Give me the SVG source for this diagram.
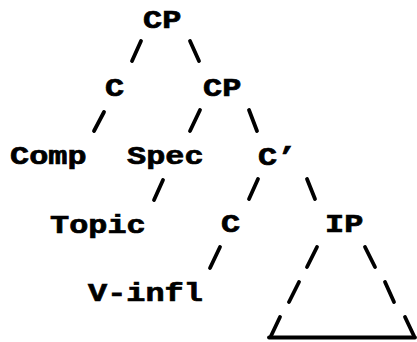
<svg xmlns="http://www.w3.org/2000/svg" width="417" height="342" viewBox="0 0 417 342">
<style>
text{font-family:"Liberation Mono","Courier New",monospace;font-weight:bold;font-size:25.5px;fill:#000;stroke:#000;stroke-width:0.7}
.c line{stroke:#000;stroke-width:3.8;stroke-linecap:round}
.base{stroke:#000;stroke-width:2.6}
</style>
<rect width="417" height="342" fill="#fff"/>
<g id="cp1" transform="translate(143,28) scale(1.25,1)"><text>CP</text></g>
<g id="c1" transform="translate(105,96) scale(1.25,1)"><text>C</text></g>
<g id="cp2" transform="translate(203,96) scale(1.25,1)"><text>CP</text></g>
<g id="comp" transform="translate(10,164) scale(1.25,1)"><text>Comp</text></g>
<g id="spec" transform="translate(127,164) scale(1.25,1)"><text>Spec</text></g>
<g id="cbar" transform="translate(258,165) scale(1.25,1)"><text>C’</text></g>
<g id="topic" transform="translate(50,233) scale(1.25,1)"><text>Topic</text></g>
<g id="c2" transform="translate(221,232) scale(1.25,1)"><text>C</text></g>
<g id="ip" transform="translate(325,232) scale(1.25,1)"><text>IP</text></g>
<g id="vinfl" transform="translate(88,301) scale(1.25,1)"><text>V-infl</text></g>
<g id="connectors" class="c">
<line x1="132" y1="61" x2="141" y2="41"/>
<line x1="190" y1="41" x2="199" y2="61"/>
<line x1="94" y1="131" x2="104" y2="112"/>
<line x1="190" y1="131" x2="200" y2="110"/>
<line x1="249" y1="110" x2="257" y2="131"/>
<line x1="154" y1="200" x2="163" y2="180"/>
<line x1="249" y1="199" x2="258" y2="179"/>
<line x1="307" y1="179" x2="315" y2="199"/>
<line x1="210" y1="268" x2="220" y2="247"/>
<line x1="307" y1="267" x2="317" y2="247"/>
<line x1="289" y1="302" x2="299" y2="282"/>
<line x1="271" y1="336" x2="280" y2="317"/>
<line x1="365" y1="247" x2="375" y2="267"/>
<line x1="385" y1="282" x2="394" y2="302"/>
<line x1="405" y1="317" x2="414" y2="336"/>
<line class="base" x1="269" y1="337.5" x2="415" y2="337.5"/>
</g>
</svg>
